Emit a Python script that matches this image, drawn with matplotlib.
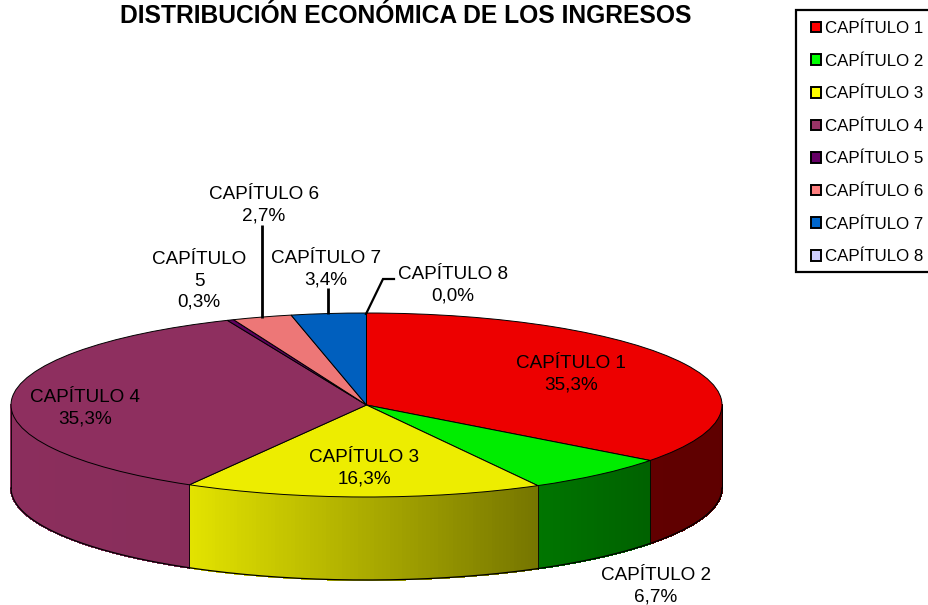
#!/usr/bin/env python3
import numpy as np
import matplotlib
matplotlib.use("Agg")
import matplotlib.pyplot as plt
from matplotlib.patches import Patch, Rectangle

plt.rcParams["font.family"] = ["Liberation Sans", "DejaVu Sans"]

capitulos = ["CAPÍTULO 1", "CAPÍTULO 2", "CAPÍTULO 3", "CAPÍTULO 4",
             "CAPÍTULO 5", "CAPÍTULO 6", "CAPÍTULO 7", "CAPÍTULO 8"]
valores = [35.3, 6.7, 16.3, 35.3, 0.3, 2.7, 3.4, 0.0]
colores = ["#FF0000", "#00FF00", "#FFFF00", "#993366",
           "#660066", "#FF8080", "#0066CC", "#CCCCFF"]
titulo = "DISTRIBUCIÓN ECONÓMICA DE LOS INGRESOS"

W, H = 929, 605
CX, CY, RX, RY, DEPTH = 366.5, 405, 355.5, 92, 83
TOP_SHADE = 0.93


def tono(color, k):
    return tuple(np.array(matplotlib.colors.to_rgb(color)) * k)


def sombra(x):
    # luz desde la izquierda: la pared se oscurece hacia la derecha
    return np.interp(x, [-1.0, -0.5, 0.48, 0.8, 1.0], [0.91, 0.89, 0.46, 0.38, 0.37])


fig = plt.figure(figsize=(W / 100, H / 100), dpi=100)

# ── tarta: en este eje el círculo unidad es la elipse superior ──
ax = fig.add_axes([0, 0, 1, 1])
ax.pie(valores, colors=[tono(c, TOP_SHADE) for c in colores],
       startangle=90, counterclock=False, radius=1,
       wedgeprops=dict(edgecolor="black", linewidth=0.7), normalize=True)
ax.set_aspect("auto")
ax.set_xlim((0 - CX) / RX, (W - CX) / RX)
ax.set_ylim((CY - H) / RY, CY / RY)

# ── pared lateral ──
prof = DEPTH / RY
limites = np.cumsum([0] + valores) / np.sum(valores) * 2 * np.pi  # horario desde arriba
for i, color in enumerate(colores):
    a0 = max(limites[i], np.pi / 2)
    a1 = min(limites[i + 1], 3 * np.pi / 2)
    if a1 <= a0:
        continue
    ang = np.linspace(a0, a1, max(2, int((a1 - a0) * 90)))
    for t0, t1 in zip(ang[:-1], ang[1:]):
        xs = np.sin([t0, t1, t1, t0])
        ys = np.cos([t0, t1, t1, t0]) - np.array([0, 0, prof, prof])
        c = tono(color, sombra(np.sin((t0 + t1) / 2)))
        ax.fill(xs, ys, facecolor=c, edgecolor=c, linewidth=0.8, antialiased=False, zorder=0.5)
    ax.plot([np.sin(a0)] * 2, [np.cos(a0), np.cos(a0) - prof],
            color="black", lw=0.6, zorder=0.6)

ang = np.linspace(np.pi / 2, 3 * np.pi / 2, 300)
ax.plot(np.sin(ang), np.cos(ang) - prof, color="black", lw=0.9, zorder=0.6)
ax.plot([1, 1], [0, -prof], color="black", lw=0.6, zorder=0.6)
ax.plot([-1, -1], [0, -prof], color="black", lw=0.6, zorder=0.6)

# ── textos y leyenda en píxeles ──
ov = fig.add_axes([0, 0, 1, 1], zorder=3)
ov.set_xlim(0, W)
ov.set_ylim(H, 0)
ov.axis("off")

ov.text(406, 16, titulo, ha="center", va="center", fontsize=17.7, fontweight="bold")

etiquetas = [
    (571, 374, "CAPÍTULO 1\n35,3%"),
    (656, 586, "CAPÍTULO 2\n6,7%"),
    (364, 468, "CAPÍTULO 3\n16,3%"),
    (85, 408, "CAPÍTULO 4\n35,3%"),
    (199, 281, "CAPÍTULO\n5\n0,3%"),
    (264, 205, "CAPÍTULO 6\n2,7%"),
    (326, 269, "CAPÍTULO 7\n3,4%"),
    (453, 285, "CAPÍTULO 8\n0,0%"),
]
for x, y, s in etiquetas:
    ov.text(x, y, s, ha="center", va="center", fontsize=13.6, linespacing=1.34, color="black")

ov.plot([262, 262], [225, 318], color="black", lw=2, solid_capstyle="butt")
ov.plot([328, 328], [288, 314], color="black", lw=2, solid_capstyle="butt")
ov.plot([366, 383, 394], [314, 279, 279], color="black", lw=1.6, solid_joinstyle="miter")

ov.add_patch(Rectangle((796, 10), 150, 262, facecolor="white", edgecolor="black", lw=1.6))
handles = [Patch(facecolor=c, edgecolor="black", linewidth=1.4) for c in colores]
ov.legend(handles, capitulos, loc="upper left", bbox_to_anchor=(811 / W, 1 - 21 / H),
          bbox_transform=fig.transFigure, frameon=False, fontsize=12.2, borderpad=0,
          borderaxespad=0, handlelength=0.58, handleheight=0.58, handletextpad=0.24,
          labelspacing=1.04)

fig.savefig("out.png", dpi=100)
plt.close(fig)
